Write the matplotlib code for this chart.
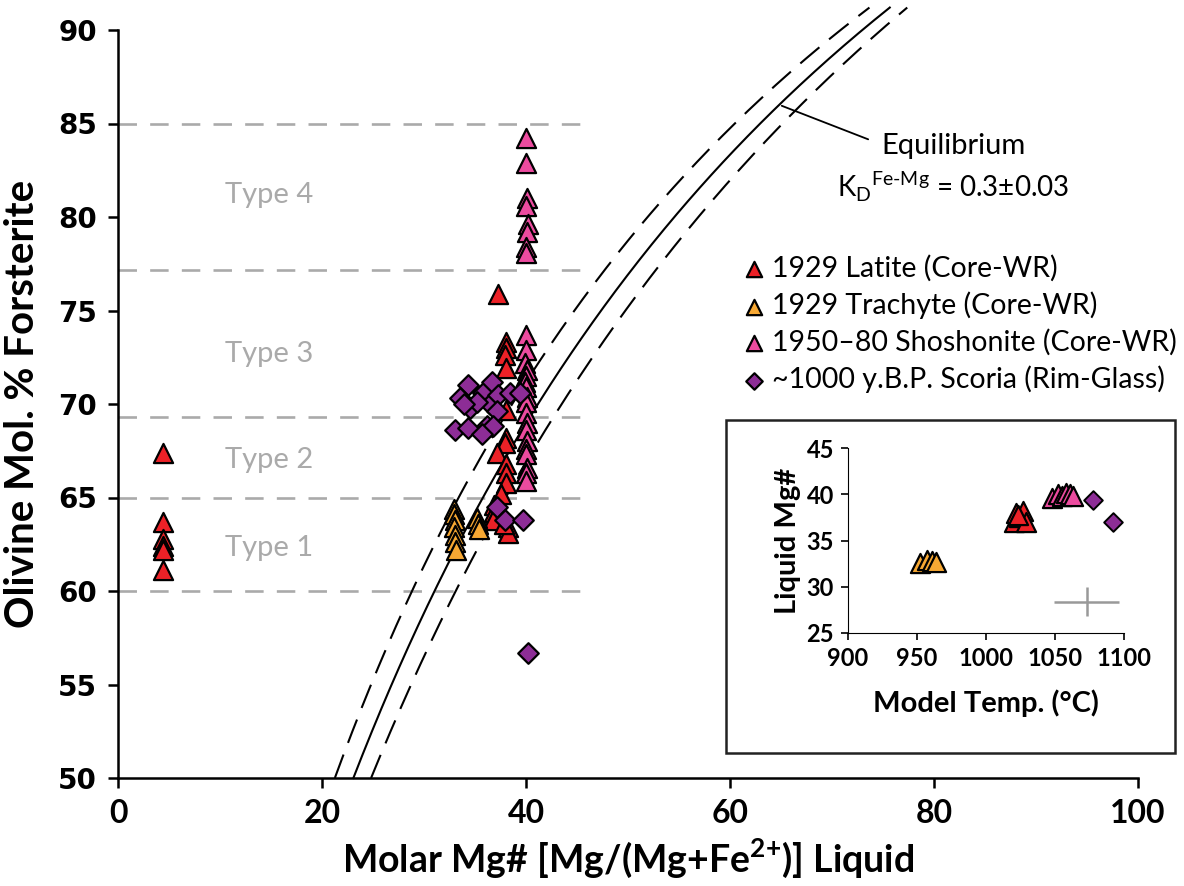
import numpy as np
import matplotlib
matplotlib.use("Agg")
import matplotlib.pyplot as plt
from matplotlib.patches import Rectangle

plt.rcParams["font.family"] = ["Lato", "DejaVu Sans"]
plt.rcParams["mathtext.fontset"] = "custom"
plt.rcParams["mathtext.rm"] = "Lato"
plt.rcParams["mathtext.bf"] = "Lato:bold"

# ---- olivine core vs whole-rock / glass Mg# ----
latite_mg = [4.4, 4.4, 4.4, 4.4, 4.4, 4.4,
             37.3, 38.0, 38.0, 37.9, 38.0, 38.0, 38.0, 37.9, 37.2,
             38.0, 38.0, 38.0, 37.5, 36.9, 36.9, 36.8, 38.2, 38.2, 37.8]
latite_fo = [67.4, 63.7, 62.8, 62.4, 62.2, 61.1,
             75.9, 73.3, 73.0, 72.6, 71.9, 69.7, 68.2, 67.9, 67.4,
             66.8, 66.3, 65.8, 65.2, 64.6, 64.2, 63.8, 63.4, 63.1, 63.6]

trachyte_mg = [32.9, 32.9, 33.0, 32.9, 33.0, 33.0, 33.1, 35.2, 35.3, 35.4]
trachyte_fo = [64.4, 64.1, 63.8, 63.4, 63.0, 62.6, 62.2, 63.9, 63.6, 63.3]

shosh_mg = [40.0, 40.0, 40.1, 40.0, 40.2, 40.1, 40.0, 40.0,
            40.0, 40.0, 39.9, 40.1, 40.0, 39.9, 40.0, 40.1, 40.0, 40.0,
            40.1, 40.0, 40.1, 40.0, 40.0, 40.1, 40.0, 40.0]
shosh_fo = [84.2, 82.9, 81.0, 80.6, 79.6, 79.2, 78.4, 78.1,
            73.7, 72.9, 72.2, 71.8, 71.5, 71.2, 70.9, 70.4, 70.1, 69.5,
            69.0, 68.6, 68.0, 67.6, 67.3, 66.6, 66.3, 65.9]

scoria_mg = [34.3, 33.5, 34.5, 33.0, 34.3, 35.8, 36.7, 36.5, 37.3, 37.2,
             36.2, 36.8, 35.7, 38.4, 39.4, 35.2, 33.9, 37.2, 37.9, 39.7, 40.2]
scoria_fo = [71.0, 70.3, 69.8, 68.6, 68.7, 70.6, 71.2, 70.0, 70.5, 69.6,
             68.8, 68.8, 68.4, 70.6, 70.6, 70.1, 70.0, 64.5, 63.8, 63.8, 56.7]

# olivine population boundaries (Fo) and labels
type_bounds = [60.0, 65.0, 69.3, 77.15, 85.0]
type_labels = ["Type 1", "Type 2", "Type 3", "Type 4"]
type_label_fo = [62.3, 67.0, 72.7, 81.2]

# Fe-Mg exchange coefficient
kd_values = [0.27, 0.30, 0.33]

# ---- inset: model temperature vs liquid Mg# ----
inset_trachyte_t = [952, 957, 961, 964]
inset_trachyte_mg = [32.6, 32.9, 32.8, 32.7]
inset_latite_t = [1020, 1022, 1024, 1027, 1029, 1023]
inset_latite_mg = [37.0, 38.0, 37.5, 38.2, 37.0, 37.8]
inset_shosh_t = [1048, 1052, 1055, 1058, 1061, 1063]
inset_shosh_mg = [39.6, 40.0, 39.8, 40.1, 40.0, 39.8]
inset_scoria_t = [1077.5, 1092]
inset_scoria_mg = [39.4, 37.0]
err_t, err_mg = 1073, 28.4
err_dt, err_dmg = 23.5, 1.6

RED = "#ec2127"
ORANGE = "#f7a833"
PINK = "#ec4b9f"
PURPLE = "#8d2d96"
GREY = "#aaaaaa"

fig = plt.figure(figsize=(11.84, 8.86), dpi=100)
ax = fig.add_axes([118 / 1184, 1 - 778 / 886, 1020 / 1184, 748 / 886])

ax.set_xlim(0, 100)
ax.set_ylim(50, 90)
for s in ["top", "right"]:
    ax.spines[s].set_visible(False)
for s in ["left", "bottom"]:
    ax.spines[s].set_linewidth(1.8)
ax.tick_params(direction="out", length=7, width=1.8, pad=8)
ax.set_xticks(np.arange(0, 101, 20))
ax.set_yticks(np.arange(50, 91, 5))
for lab in ax.get_xticklabels():
    lab.set_fontsize(23)
    lab.set_fontweight("bold")
for lab in ax.get_yticklabels():
    lab.set_fontfamily("DejaVu Sans")
    lab.set_fontsize(20)
    lab.set_fontweight("bold")

ax.set_xlabel(r"Molar Mg# [Mg/(Mg+Fe$^{\mathbf{2{+}}}$)] Liquid", fontsize=27,
              fontweight="bold", labelpad=6)
ax.set_ylabel("Olivine Mol. % Forsterite", fontsize=29, fontweight="bold",
              labelpad=12)

# Type boundaries
for fo in type_bounds:
    ax.plot([0, 46.5], [fo, fo], color=GREY, lw=1.9, ls=(0, (7, 5)), zorder=1)
for lab, fo in zip(type_labels, type_label_fo):
    ax.text(14.8, fo, lab, color=GREY, fontsize=21, ha="center", va="center")

# Equilibrium olivine curves
fo_grid = np.linspace(0.5, 0.912, 300)
for kd in kd_values:
    mg = 1.0 / (1.0 + (1.0 / fo_grid - 1.0) / kd)
    if kd == 0.30:
        ax.plot(mg * 100, fo_grid * 100, color="black", lw=1.5, clip_on=False, zorder=2)
    else:
        ax.plot(mg * 100, fo_grid * 100, color="black", lw=1.5,
                ls=(0, (12, 6)), clip_on=False, zorder=2)

# leader to label
fo_pt = 0.86
mg_pt = 100.0 / (1.0 + (1.0 / fo_pt - 1.0) / 0.30)
ax.annotate("", xy=(mg_pt, fo_pt * 100), xytext=(73.8, 84.1),
            arrowprops=dict(arrowstyle="-", color="black", lw=1.3))
ax.text(81.9, 83.8, "Equilibrium", fontsize=21, ha="center", va="center")
ax.text(81.9, 81.6, r"K$_{\mathregular{D}}$$^{\mathregular{Fe\text{-}Mg}}$ = 0.3±0.03",
        fontsize=20, ha="center", va="center")

tri_kw = dict(marker="^", s=190, edgecolors="black", linewidths=1.6, zorder=3)
ax.scatter(latite_mg, latite_fo, color=RED, label="1929 Latite (Core-WR)", **tri_kw)
ax.scatter(trachyte_mg, trachyte_fo, color=ORANGE, label="1929 Trachyte (Core-WR)", **tri_kw)
ax.scatter(shosh_mg, shosh_fo, color=PINK, label="1950\u201380 Shoshonite (Core-WR)", **tri_kw)
ax.scatter(scoria_mg, scoria_fo, color=PURPLE, marker="D", s=110, edgecolors="black",
           linewidths=1.6, zorder=4, label="~1000 y.B.P. Scoria (Rim-Glass)")

leg = fig.legend(*ax.get_legend_handles_labels(), loc="upper left",
                 bbox_to_anchor=(744 / 1184, 1 - 255 / 886), frameon=False,
                 fontsize=20.5, handlelength=0.7, handletextpad=0.3,
                 labelspacing=0.34, borderpad=0, borderaxespad=0, markerscale=0.8)

# ---- inset ----
fig.patches.append(Rectangle((726 / 1184, 1 - 753 / 886), 449 / 1184, 333 / 886,
                             transform=fig.transFigure, fill=False,
                             edgecolor="#222222", lw=1.8, zorder=5))
axi = fig.add_axes([848 / 1184, 1 - 633 / 886, 276 / 1184, 185 / 886])
axi.set_xlim(900, 1100)
axi.set_ylim(25, 45)
axi.set_xticks(np.arange(900, 1101, 50))
axi.set_yticks(np.arange(25, 46, 5))
for s in ["top", "right"]:
    axi.spines[s].set_visible(False)
axi.tick_params(direction="out", length=5, width=1.2, labelsize=17, pad=5)
for lab in axi.get_xticklabels() + axi.get_yticklabels():
    lab.set_fontweight("bold")
axi.set_xlabel("Model Temp. (°C)", fontsize=21, fontweight="bold", labelpad=14)
axi.set_ylabel("Liquid Mg#", fontsize=21, fontweight="bold", labelpad=4)

itri = dict(marker="^", s=190, edgecolors="black", linewidths=1.6, zorder=3)
axi.scatter(inset_trachyte_t, inset_trachyte_mg, color=ORANGE, **itri)
axi.scatter(inset_latite_t, inset_latite_mg, color=RED, **itri)
axi.scatter(inset_shosh_t, inset_shosh_mg, color=PINK, **itri)
axi.scatter(inset_scoria_t, inset_scoria_mg, color=PURPLE, marker="D", s=90,
            edgecolors="black", linewidths=1.4, zorder=4)
axi.errorbar([err_t], [err_mg], xerr=[err_dt], yerr=[err_dmg], fmt="none",
             ecolor="#999999", elinewidth=1.8, capsize=0)

fig.savefig("out.png", dpi=100)
